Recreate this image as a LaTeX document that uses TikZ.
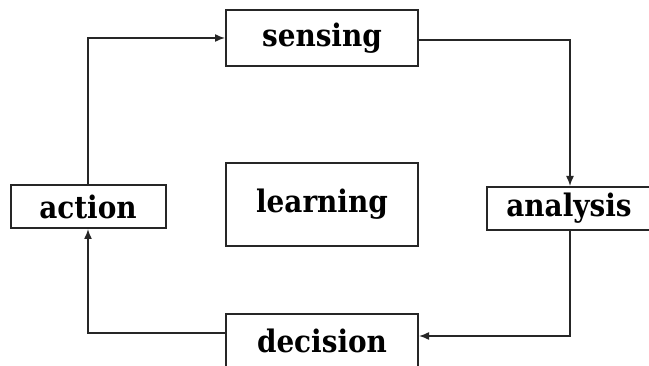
\documentclass[tikz,border=0pt]{standalone}
\usepackage{fontspec}
\setmainfont{DejaVu Serif Condensed}
\usetikzlibrary{arrows.meta}
\begin{document}
\begin{tikzpicture}[x=1pt,y=-1pt,
  box/.style={draw=black!85,line width=2pt,fill=white,inner sep=0pt,font=\fontsize{31}{33}\selectfont\bfseries},
  conn/.style={line width=1.5pt,draw=black!85,-{Latex[length=10pt,width=8pt]}}]
\useasboundingbox[fill=white] (0,0) rectangle (649,366);
\node[box,minimum width=192pt,minimum height=56pt] (sensing) at (322,38.5) {sensing};
\node[box,minimum width=155pt,minimum height=43pt] (action) at (88,206.5) {action};
\node[box,minimum width=192pt,minimum height=83pt] (learning) at (322,204.5) {learning};
\node[box,minimum width=164pt,minimum height=43pt] (analysis) at (569,208.5) {analysis};
\node[box,minimum width=192pt,minimum height=54pt] (decision) at (322,341) {decision};
\draw[conn] (action.north) |- (sensing.west |- 0,38);
\draw[conn] (sensing.east |- 0,40) -| (analysis.north -| 570,0);
\draw[conn] (analysis.south -| 570,0) |- (decision.east |- 0,336);
\draw[conn] (decision.west |- 0,333) -| (action.south);
\end{tikzpicture}
\end{document}
